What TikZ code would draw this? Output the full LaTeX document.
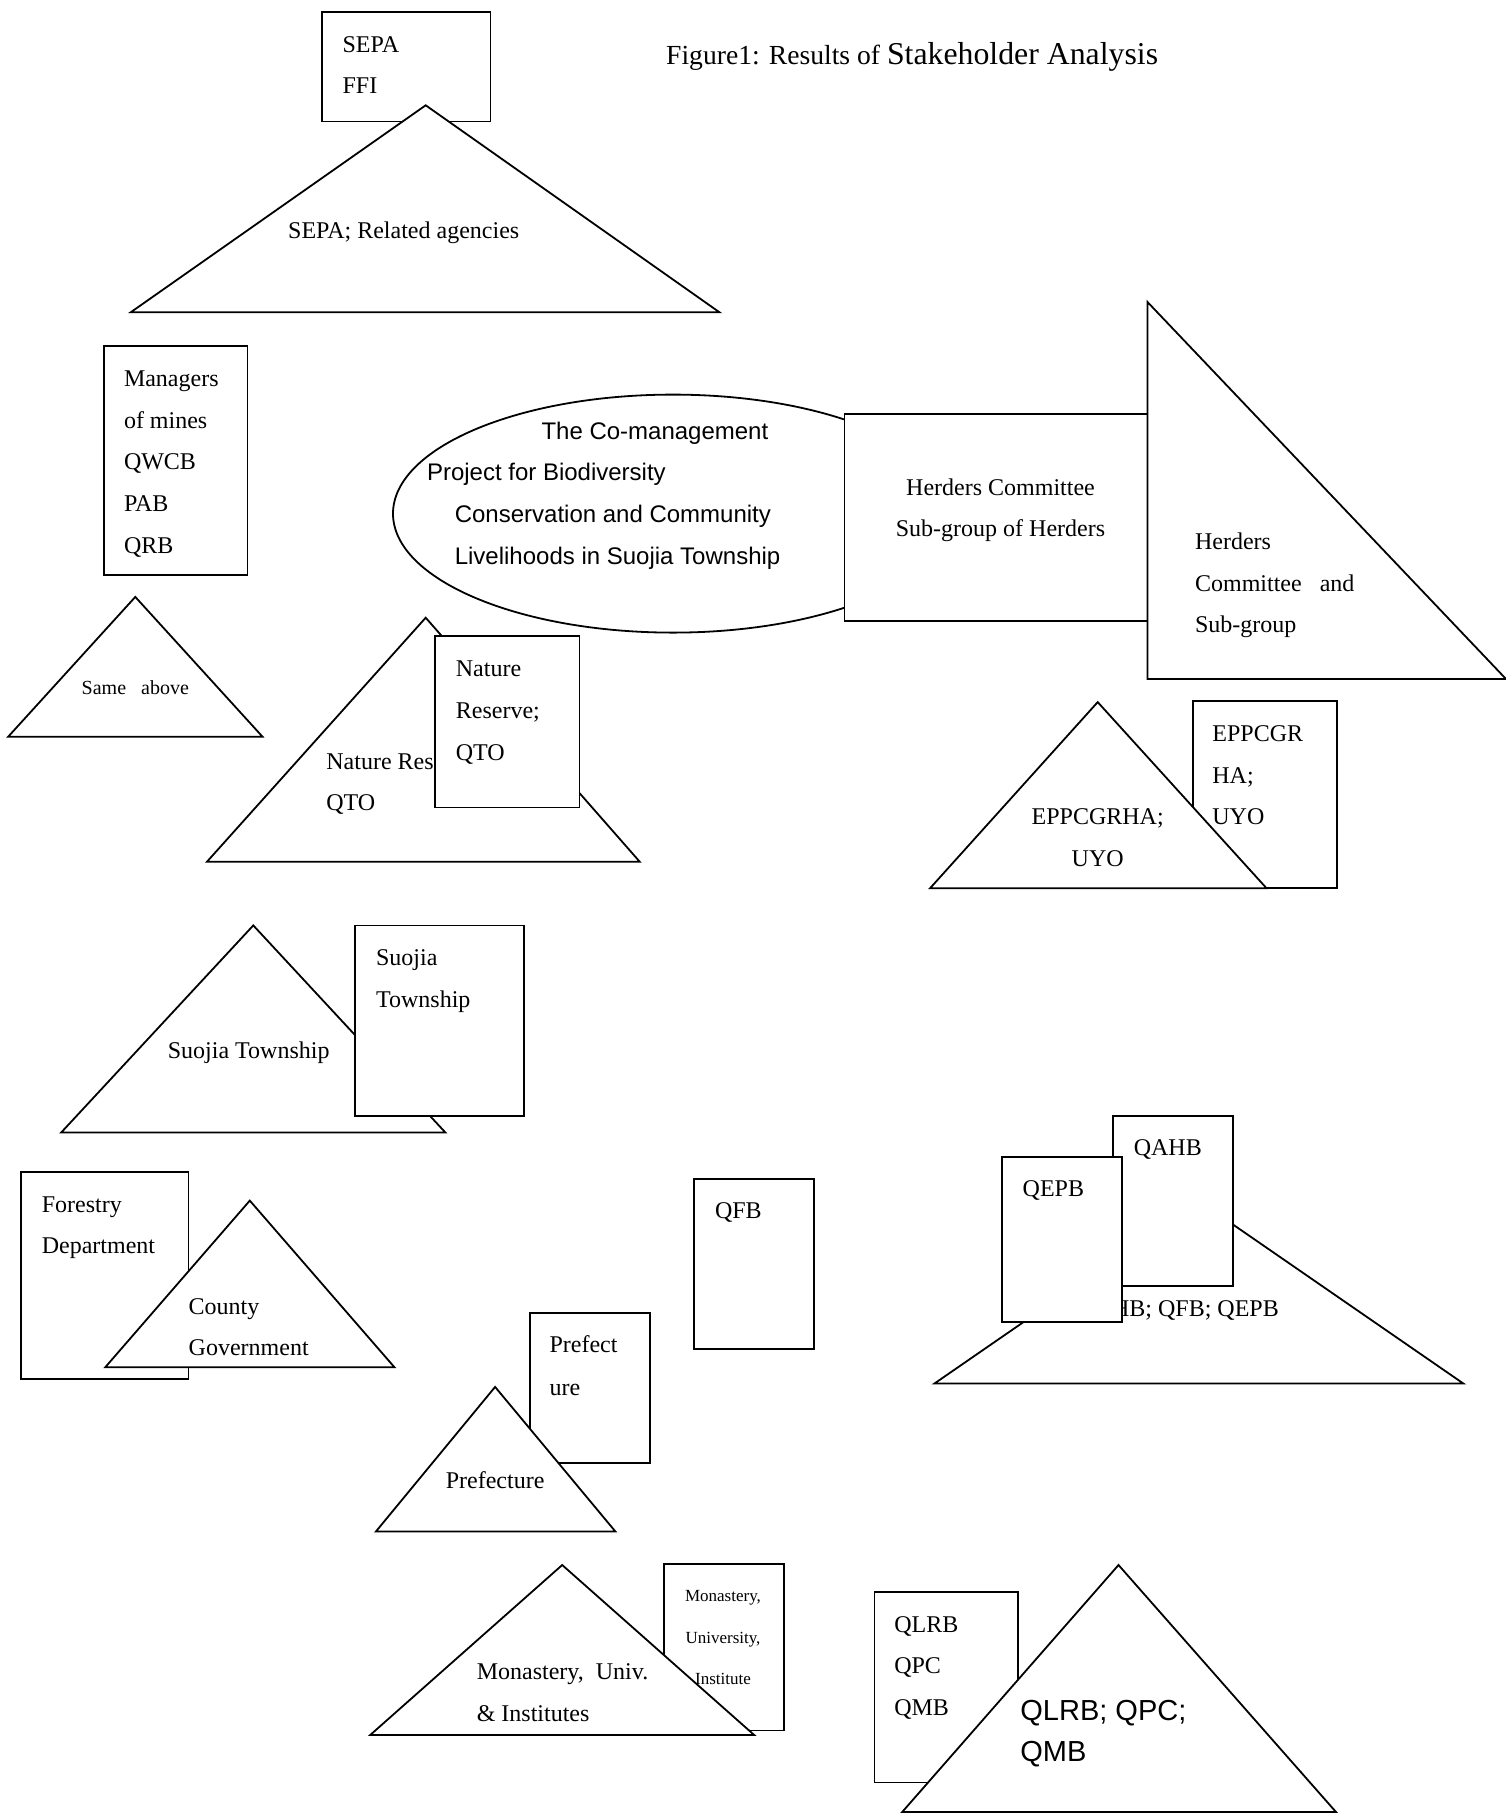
\documentclass[tikz,border=0pt]{standalone}
\usepackage{fontspec}
\setmainfont{Liberation Serif}
\setsansfont{Liberation Sans}
\newcommand\fsz[1]{\fontsize{#1}{#1}\selectfont}
\begin{document}
\begin{tikzpicture}[x=1pt,y=-1pt,
  outl/.style={draw, fill=white, line width=1.8pt, line join=miter},
  tl/.style={anchor=base west, inner sep=0pt, font=\fsz{24}},
  tc/.style={tl, anchor=base},
  sl/.style={anchor=base west, inner sep=0pt, font=\sffamily\fsz{24}}]
\fill[white] (0,0) rectangle (1506,1813);
\useasboundingbox (0,0) rectangle (1506,1813);

% SEPA
\draw[outl] (321.6,11.6) rectangle (490.4,121.5);
\node[tl] (sepa1) at (342.4,52) {SEPA};
\node[tl] (sepa2) at (342.4,93.6) {FFI};
\draw[outl] (130.7,312.3) -- (425.7,105.3) -- (719.5,312.3) -- cycle;
\node[tc] (sepat) at (403.7,238) {SEPA; Related agencies};

% Title
\node[anchor=base west, inner sep=0pt] (title) at (666,64) {{\fsz{27.6}Figure1: Results of }{\fsz{31.8}Stakeholder Analysis}};

% Managers
\draw[outl] (104,345.9) rectangle (247.5,574.9);
\node[tl] (m1) at (123.8,386) {Managers};
\node[tl] (m2) at (123.8,428) {of mines};
\node[tl] (m3) at (123.8,469.5) {QWCB};
\node[tl] (m4) at (123.8,511) {PAB};
\node[tl] (m5) at (123.8,553) {QRB};
\draw[outl] (8.1,736.8) -- (135.3,596.9) -- (262.6,736.8) -- cycle;
\node[tc, font=\fsz{20}] (same) at (135.3,694.5) {Same\ \ \ above};

% Ellipse
\draw[outl] (673,513.6) ellipse [x radius=280pt, y radius=119pt];
\node[sl] (e1) at (541.3,439) {The Co-management};
\node[sl] (e2) at (426.8,480.5) {Project for Biodiversity};
\node[sl] (e3) at (454.6,522) {Conservation and Community};
\node[sl] (e4) at (454.6,564) {Livelihoods in Suojia Township};

% Herders
\draw[outl] (844.4,414.1) rectangle (1147.4,621.2);
\node[tc] (h1) at (1000.5,495) {Herders Committee};
\node[tc] (h2) at (1000.5,536.6) {Sub-group of Herders};
\draw[outl] (1147.4,301.9) -- (1147.4,679) -- (1506,679) -- cycle;
\node[tl] (hh1) at (1194.9,549) {Herders};
\node[tl] (hh2) at (1194.9,591) {Committee\ \ \ and};
\node[tl] (hh3) at (1194.9,632.6) {Sub-group};

% Nature reserve
\draw[outl] (207,861.7) -- (425.7,617.7) -- (639.7,861.7) -- cycle;
\node[tl] (n1) at (326.2,769) {Nature Reserve;};
\node[tl] (n2) at (326.2,810.7) {QTO};
\draw[outl] (434.9,636.2) rectangle (579.5,807.4);
\node[tl] (nb1) at (455.7,676.6) {Nature};
\node[tl] (nb2) at (455.7,718.2) {Reserve;};
\node[tl] (nb3) at (455.7,760) {QTO};

% EPPCGRHA
\draw[outl] (1192.6,701) rectangle (1337.2,888.3);
\node[tl] (ep1) at (1212.2,741.3) {EPPCGR};
\node[tl] (ep2) at (1212.2,783) {HA;};
\node[tl] (ep3) at (1212.2,824.6) {UYO};
\draw[outl] (930,888.3) -- (1097.7,702.1) -- (1266.6,888.3) -- cycle;
\node[tc] (et1) at (1097.7,824.6) {EPPCGRHA;};
\node[tc] (et2) at (1097.7,866.3) {UYO};

% Suojia
\draw[outl] (61.3,1132.4) -- (253.3,925.4) -- (445.3,1132.4) -- cycle;
\node[tc] (st) at (248.7,1058) {Suojia Township};
\draw[outl] (355.1,925.4) rectangle (524,1116.2);
\node[tl] (sb1) at (375.9,965.8) {Suojia};
\node[tl] (sb2) at (375.9,1007.4) {Township};

% Forestry / County
\draw[outl] (20.8,1171.7) rectangle (188.5,1378.8);
\node[tl] (f1) at (41.6,1212) {Forestry};
\node[tl] (f2) at (41.6,1253.7) {Department};
\draw[outl] (105.3,1367.2) -- (249.8,1200.6) -- (394.4,1367.2) -- cycle;
\node[tl] (c1) at (188.5,1314) {County};
\node[tl] (c2) at (188.5,1355.5) {Government};

% QFB
\draw[outl] (694,1178.7) rectangle (814.3,1348.7);
\node[tl] (qfb) at (714.8,1218) {QFB};

% Prefecture
\draw[outl] (529.8,1312.9) rectangle (650.1,1463.2);
\node[tl] (p1) at (549.4,1352) {Prefect};
\node[tl] (p2) at (549.4,1395) {ure};
\draw[outl] (375.9,1531.5) -- (495.1,1386.9) -- (615.4,1531.5) -- cycle;
\node[tc] (pt) at (495.1,1488.6) {Prefecture};

% QAHB group
\draw[outl] (934.6,1383.4) -- (1198.9,1201) -- (1463.2,1383.4) -- cycle;
\node[anchor=base east, inner sep=0pt, font=\fsz{24}] (qt) at (1279,1316) {QAHB; QFB; QEPB};
\draw[outl] (1112.7,1116.2) rectangle (1233,1286.2);
\node[tl] (qahb) at (1133.6,1155.4) {QAHB};
\draw[outl] (1001.7,1156.7) rectangle (1122,1322.1);
\node[tl] (qepb) at (1022.5,1196) {QEPB};

% Monastery
\draw[outl] (664,1563.9) rectangle (784.3,1730.4);
\node[tc, font=\fsz{17}] (mb1) at (723,1601.7) {Monastery,};
\node[tc, font=\fsz{17}] (mb2) at (723,1643.4) {University,};
\node[tc, font=\fsz{17}] (mb3) at (723,1684) {Institute};
\draw[outl] (370.2,1735) -- (562.2,1565) -- (754.2,1735) -- cycle;
\node[tl] (mt1) at (476.6,1679.4) {Monastery,\ \ Univ.};
\node[tl] (mt2) at (476.6,1721) {\& Institutes};

% QLRB
\draw[outl] (874.5,1591.6) rectangle (1017.9,1782.5);
\node[tl] (ql1) at (894.1,1632) {QLRB};
\node[tl] (ql2) at (894.1,1673.6) {QPC};
\node[tl] (ql3) at (894.1,1715.3) {QMB};
\draw[outl] (902.2,1812) -- (1118.5,1565) -- (1336,1812) -- cycle;
\node[sl, font=\sffamily\fsz{29}] (qlt1) at (1020.2,1720) {QLRB; QPC;};
\node[sl, font=\sffamily\fsz{29}] (qlt2) at (1020.2,1761.5) {QMB};
\end{tikzpicture}
\end{document}
